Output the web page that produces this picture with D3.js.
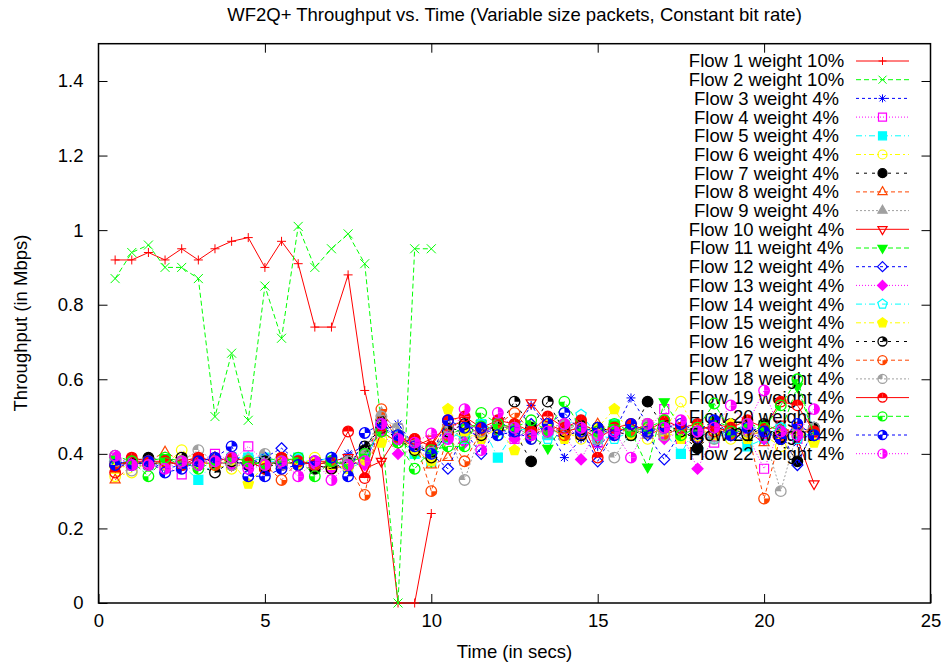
<!DOCTYPE html>
<html>
<head>
<meta charset="utf-8">
<script src="https://cdn.jsdelivr.net/npm/d3@7"></script>
<style>
  body { margin: 0; background: #fff; }
  svg { display: block; }
  text { font-family: "Liberation Sans", Arial, sans-serif; font-size: 18.5px; fill: #000; }
</style>
</head>
<body>
<div id="chart"></div>
<script>
// sample times (secs)
const timesShort = [0.5, 1, 1.5, 2, 2.5, 3, 3.5, 4, 4.5, 5, 5.5, 6, 6.5, 7, 7.5, 8, 8.5, 9, 9.5, 10];
const timesLong = [0.5, 1, 1.5, 2, 2.5, 3, 3.5, 4, 4.5, 5, 5.5, 6, 6.5, 7, 7.5, 8, 8.5, 9, 9.5, 10,
  10.5, 11, 11.5, 12, 12.5, 13, 13.5, 14, 14.5, 15, 15.5, 16, 16.5, 17, 17.5, 18, 18.5, 19, 19.5, 20,
  20.5, 21, 21.5];

// throughput (Mbps)
const flow1 = [0.92, 0.92, 0.94, 0.92, 0.95, 0.92, 0.95, 0.97, 0.98, 0.90, 0.97, 0.91, 0.74, 0.74, 0.88, 0.57, 0.38, 0, 0, 0.24];
const flow2 = [0.87, 0.94, 0.96, 0.90, 0.90, 0.87, 0.50, 0.67, 0.49, 0.85, 0.71, 1.01, 0.90, 0.95, 0.99, 0.91, 0.47, 0, 0.95, 0.95];
const flow3 = [0.38, 0.37, 0.38, 0.36, 0.37, 0.38, 0.39, 0.38, 0.39, 0.37,
  0.38, 0.37, 0.38, 0.37, 0.40, 0.42, 0.46, 0.48, 0.42, 0.40,
  0.45, 0.47, 0.44, 0.49, 0.46, 0.53, 0.47, 0.39, 0.44, 0.42,
  0.46, 0.55, 0.48, 0.45, 0.47, 0.44, 0.49, 0.46, 0.43, 0.47,
  0.45, 0.43, 0.46];
const flow4 = [0.39, 0.37, 0.38, 0.37, 0.345, 0.38, 0.40, 0.38, 0.42, 0.38,
  0.37, 0.38, 0.36, 0.37, 0.38, 0.40, 0.47, 0.44, 0.42, 0.41,
  0.46, 0.48, 0.45, 0.47, 0.44, 0.46, 0.48, 0.45, 0.47, 0.43,
  0.45, 0.47, 0.46, 0.52, 0.44, 0.46, 0.43, 0.48, 0.45, 0.36,
  0.47, 0.44, 0.45];
const flow5 = [0.38, 0.38, 0.37, 0.38, 0.37, 0.33, 0.38, 0.39, 0.39, 0.39,
  0.38, 0.39, 0.37, 0.38, 0.36, 0.38, 0.47, 0.45, 0.40, 0.38,
  0.44, 0.46, 0.48, 0.39, 0.46, 0.47, 0.45, 0.47, 0.46, 0.44,
  0.48, 0.45, 0.47, 0.46, 0.40, 0.48, 0.46, 0.45, 0.42, 0.44,
  0.47, 0.45, 0.44];
const flow6 = [0.34, 0.35, 0.38, 0.37, 0.41, 0.38, 0.37, 0.36, 0.38, 0.37,
  0.38, 0.37, 0.39, 0.36, 0.37, 0.38, 0.44, 0.45, 0.41, 0.39,
  0.47, 0.44, 0.46, 0.45, 0.48, 0.44, 0.47, 0.46, 0.44, 0.47,
  0.45, 0.47, 0.44, 0.46, 0.54, 0.45, 0.47, 0.44, 0.46, 0.45,
  0.42, 0.46, 0.44];
const flow7 = [0.37, 0.38, 0.39, 0.38, 0.37, 0.38, 0.38, 0.37, 0.38, 0.36,
  0.38, 0.37, 0.36, 0.37, 0.38, 0.41, 0.49, 0.45, 0.43, 0.40,
  0.47, 0.46, 0.45, 0.48, 0.46, 0.38, 0.47, 0.45, 0.48, 0.46,
  0.47, 0.45, 0.54, 0.47, 0.45, 0.415, 0.46, 0.48, 0.45, 0.47,
  0.44, 0.38, 0.46];
const flow8 = [0.33, 0.37, 0.38, 0.405, 0.38, 0.37, 0.39, 0.38, 0.37, 0.38,
  0.37, 0.38, 0.37, 0.36, 0.37, 0.38, 0.50, 0.44, 0.42, 0.37,
  0.39, 0.45, 0.47, 0.46, 0.48, 0.45, 0.47, 0.46, 0.45, 0.48,
  0.46, 0.47, 0.45, 0.47, 0.46, 0.44, 0.47, 0.45, 0.46, 0.43,
  0.46, 0.47, 0.45];
const flow9 = [0.38, 0.37, 0.37, 0.38, 0.38, 0.39, 0.37, 0.38, 0.39, 0.38,
  0.37, 0.38, 0.37, 0.38, 0.37, 0.40, 0.51, 0.46, 0.43, 0.41,
  0.46, 0.45, 0.47, 0.48, 0.46, 0.47, 0.45, 0.48, 0.46, 0.45,
  0.47, 0.46, 0.45, 0.48, 0.46, 0.47, 0.44, 0.46, 0.48, 0.46,
  0.45, 0.47, 0.46];
const flow10 = [0.37, 0.38, 0.38, 0.37, 0.38, 0.39, 0.38, 0.37, 0.38, 0.37,
  0.38, 0.37, 0.38, 0.38, 0.39, 0.36, 0.38, 0.45, 0.42, 0.44,
  0.47, 0.49, 0.46, 0.48, 0.47, 0.537, 0.48, 0.46, 0.47, 0.44,
  0.47, 0.46, 0.48, 0.45, 0.47, 0.46, 0.48, 0.47, 0.45, 0.46,
  0.48, 0.44, 0.32];
const flow11 = [0.38, 0.37, 0.38, 0.39, 0.37, 0.38, 0.37, 0.38, 0.37, 0.38,
  0.39, 0.37, 0.38, 0.37, 0.38, 0.39, 0.47, 0.44, 0.40, 0.38,
  0.45, 0.47, 0.48, 0.46, 0.47, 0.45, 0.415, 0.48, 0.47, 0.46,
  0.48, 0.46, 0.365, 0.54, 0.47, 0.46, 0.49, 0.47, 0.45, 0.48,
  0.46, 0.58, 0.45];
const flow12 = [0.38, 0.37, 0.38, 0.37, 0.38, 0.37, 0.39, 0.38, 0.37, 0.39,
  0.415, 0.38, 0.37, 0.38, 0.37, 0.38, 0.47, 0.45, 0.42, 0.40,
  0.36, 0.46, 0.40, 0.47, 0.45, 0.48, 0.46, 0.44, 0.47, 0.38,
  0.46, 0.47, 0.45, 0.385, 0.46, 0.44, 0.47, 0.45, 0.46, 0.44,
  0.46, 0.37, 0.47];
const flow13 = [0.39, 0.38, 0.37, 0.38, 0.37, 0.38, 0.38, 0.37, 0.37, 0.38,
  0.37, 0.38, 0.37, 0.36, 0.38, 0.37, 0.46, 0.40, 0.41, 0.39,
  0.45, 0.43, 0.46, 0.47, 0.44, 0.46, 0.48, 0.45, 0.385, 0.47,
  0.45, 0.46, 0.47, 0.44, 0.46, 0.36, 0.45, 0.47, 0.46, 0.44,
  0.45, 0.47, 0.44];
const flow14 = [0.38, 0.38, 0.37, 0.38, 0.37, 0.37, 0.38, 0.39, 0.39, 0.38,
  0.38, 0.37, 0.38, 0.39, 0.37, 0.38, 0.48, 0.45, 0.42, 0.40,
  0.46, 0.44, 0.48, 0.45, 0.47, 0.46, 0.44, 0.47, 0.505, 0.45,
  0.44, 0.46, 0.48, 0.45, 0.47, 0.46, 0.44, 0.46, 0.48, 0.45,
  0.47, 0.44, 0.46];
const flow15 = [0.36, 0.37, 0.38, 0.37, 0.38, 0.37, 0.38, 0.38, 0.32, 0.37,
  0.38, 0.37, 0.38, 0.37, 0.36, 0.38, 0.43, 0.44, 0.41, 0.38,
  0.52, 0.46, 0.44, 0.47, 0.41, 0.46, 0.48, 0.44, 0.46, 0.47,
  0.52, 0.45, 0.47, 0.46, 0.44, 0.47, 0.45, 0.48, 0.44, 0.47,
  0.45, 0.46, 0.43];
const flow16 = [0.37, 0.38, 0.37, 0.38, 0.39, 0.37, 0.35, 0.38, 0.37, 0.38,
  0.37, 0.38, 0.37, 0.36, 0.38, 0.42, 0.47, 0.44, 0.41, 0.39,
  0.46, 0.48, 0.45, 0.47, 0.54, 0.47, 0.54, 0.46, 0.45, 0.47,
  0.46, 0.45, 0.47, 0.48, 0.46, 0.44, 0.47, 0.46, 0.45, 0.48,
  0.44, 0.46, 0.47];
const flow17 = [0.37, 0.38, 0.37, 0.38, 0.37, 0.38, 0.37, 0.39, 0.38, 0.37,
  0.33, 0.38, 0.37, 0.38, 0.37, 0.29, 0.52, 0.44, 0.44, 0.30,
  0.45, 0.38, 0.46, 0.48, 0.51, 0.46, 0.47, 0.45, 0.48, 0.46,
  0.47, 0.46, 0.48, 0.45, 0.47, 0.46, 0.48, 0.45, 0.46, 0.28,
  0.45, 0.47, 0.46];
const flow18 = [0.38, 0.355, 0.38, 0.37, 0.38, 0.41, 0.38, 0.37, 0.38, 0.40,
  0.37, 0.38, 0.37, 0.38, 0.38, 0.40, 0.50, 0.47, 0.42, 0.40,
  0.47, 0.33, 0.46, 0.48, 0.46, 0.45, 0.47, 0.48, 0.46, 0.44,
  0.39, 0.46, 0.48, 0.45, 0.47, 0.46, 0.44, 0.47, 0.46, 0.45,
  0.30, 0.46, 0.47];
const flow19 = [0.35, 0.39, 0.38, 0.38, 0.37, 0.39, 0.38, 0.39, 0.38, 0.36,
  0.39, 0.38, 0.37, 0.38, 0.46, 0.335, 0.46, 0.43, 0.44, 0.42,
  0.49, 0.50, 0.47, 0.49, 0.48, 0.46, 0.50, 0.47, 0.49, 0.39,
  0.47, 0.48, 0.46, 0.49, 0.47, 0.48, 0.46, 0.47, 0.49, 0.47,
  0.54, 0.53, 0.46];
const flow20 = [0.395, 0.38, 0.34, 0.39, 0.38, 0.36, 0.38, 0.39, 0.38, 0.37,
  0.38, 0.39, 0.34, 0.38, 0.37, 0.40, 0.46, 0.43, 0.36, 0.41,
  0.42, 0.42, 0.51, 0.48, 0.47, 0.49, 0.46, 0.54, 0.47, 0.46,
  0.48, 0.46, 0.47, 0.49, 0.45, 0.47, 0.535, 0.46, 0.48, 0.47,
  0.53, 0.60, 0.45];
const flow21 = [0.37, 0.37, 0.38, 0.35, 0.36, 0.38, 0.39, 0.42, 0.34, 0.34,
  0.36, 0.37, 0.38, 0.39, 0.34, 0.456, 0.48, 0.45, 0.42, 0.40,
  0.49, 0.47, 0.47, 0.45, 0.46, 0.44, 0.48, 0.51, 0.46, 0.47,
  0.45, 0.48, 0.46, 0.47, 0.48, 0.46, 0.49, 0.45, 0.47, 0.46,
  0.44, 0.48, 0.45];
const flow22 = [0.395, 0.37, 0.37, 0.36, 0.38, 0.37, 0.38, 0.39, 0.36, 0.37,
  0.38, 0.34, 0.38, 0.33, 0.37, 0.38, 0.48, 0.44, 0.43, 0.455,
  0.44, 0.52, 0.41, 0.51, 0.47, 0.45, 0.46, 0.48, 0.47, 0.45,
  0.46, 0.39, 0.48, 0.47, 0.49, 0.46, 0.47, 0.53, 0.48, 0.57,
  0.46, 0.45, 0.52];

const flowLabels = [
  "Flow 1 weight 10%", "Flow 2 weight 10%", "Flow 3 weight 4%", "Flow 4 weight 4%",
  "Flow 5 weight 4%", "Flow 6 weight 4%", "Flow 7 weight 4%", "Flow 8 weight 4%",
  "Flow 9 weight 4%", "Flow 10 weight 4%", "Flow 11 weight 4%", "Flow 12 weight 4%",
  "Flow 13 weight 4%", "Flow 14 weight 4%", "Flow 15 weight 4%", "Flow 16 weight 4%",
  "Flow 17 weight 4%", "Flow 18 weight 4%", "Flow 19 weight 4%", "Flow 20 weight 4%",
  "Flow 21 weight 4%", "Flow 22 weight 4%"
];
const xTicks = [0, 5, 10, 15, 20, 25];
const yTicks = [0, 0.2, 0.4, 0.6, 0.8, 1, 1.2, 1.4];

// gnuplot-ish line types, cycling every 9
const ltColors = ["#ff0000", "#00ff00", "#0000ff", "#ff00ff", "#00ffff", "#ffff00", "#000000", "#ff4500", "#a0a0a0"];
const ltDashes = [null, "5,3", "3,3", "1,2", "6,3,1,3", "5,3,2,3", "3,5", "4,3", "2,2"];

const width = 941, height = 665;
const margin = { left: 98.5, right: 930.5, top: 43.7, bottom: 603 };

const svg = d3.select("#chart").append("svg")
  .attr("width", width)
  .attr("height", height);

const x = d3.scaleLinear().domain([0, 25]).range([margin.left, margin.right]);
const y = d3.scaleLinear().domain([0, 1.5]).range([margin.bottom, margin.top]);

// title and axis labels
svg.append("text")
  .attr("x", 514.5).attr("y", 21)
  .attr("text-anchor", "middle")
  .text("WF2Q+ Throughput vs. Time (Variable size packets, Constant bit rate)");

svg.append("text")
  .attr("x", 514.5).attr("y", 658)
  .attr("text-anchor", "middle")
  .text("Time (in secs)");

svg.append("text")
  .attr("transform", "translate(27,323) rotate(-90)")
  .attr("text-anchor", "middle")
  .text("Throughput (in Mbps)");

// axes with inward ticks, mirrored on top/right
function cleanAxis(g) {
  g.attr("font-size", null).attr("font-family", null);
  g.select(".domain").remove();
}

svg.append("g")
  .attr("transform", `translate(0,${margin.bottom})`)
  .call(d3.axisBottom(x).tickValues(xTicks).tickSize(-9).tickPadding(11).tickFormat(d3.format("d")))
  .call(cleanAxis);

svg.append("g")
  .attr("transform", `translate(0,${margin.top})`)
  .call(d3.axisTop(x).tickValues(xTicks.slice(1, -1)).tickSize(-9).tickFormat(""))
  .call(cleanAxis);

svg.append("g")
  .attr("transform", `translate(${margin.left},0)`)
  .call(d3.axisLeft(y).tickValues(yTicks).tickSize(-9).tickPadding(15).tickFormat(d => String(+d.toFixed(1))))
  .call(cleanAxis);

svg.append("g")
  .attr("transform", `translate(${margin.right},0)`)
  .call(d3.axisRight(y).tickValues(yTicks.slice(1)).tickSize(-9).tickFormat(""))
  .call(cleanAxis);

svg.append("rect")
  .attr("x", margin.left).attr("y", margin.top)
  .attr("width", margin.right - margin.left)
  .attr("height", margin.bottom - margin.top)
  .attr("fill", "none")
  .attr("stroke", "#000")
  .attr("stroke-width", 1.5);

// point markers, gnuplot order: + x * box fbox circ fcirc tri ftri itri fitri dia fdia pent fpent, then part-filled circles
const quads = { UR: [0, Math.PI / 2], LR: [Math.PI / 2, Math.PI], LL: [Math.PI, 1.5 * Math.PI], UL: [1.5 * Math.PI, 2 * Math.PI] };
const circleFills = [["UR"], ["LR"], ["UL"], ["UL", "UR"], ["LL"], ["UR", "LL"], ["UR", "LR"]];

function polygon(n, r, rot) {
  const pts = d3.range(n).map(k => {
    const a = rot + k * 2 * Math.PI / n;
    return [r * Math.sin(a), -r * Math.cos(a)];
  });
  return "M" + pts.map(p => p.join(",")).join("L") + "Z";
}

function drawMarker(g, type, color, big) {
  const s = big ? 4.5 : 4;
  const r = big ? 5.3 : 4.5;
  const line = (d) => g.append("path").attr("d", d).attr("fill", "none").attr("stroke", color).attr("stroke-width", 1);
  const shape = (d, filled) => g.append("path").attr("d", d)
    .attr("fill", filled ? color : "none").attr("stroke", color).attr("stroke-width", 1.2);
  const disc = d3.arc()({ innerRadius: 0, outerRadius: r, startAngle: 0, endAngle: 2 * Math.PI });
  switch (type) {
    case 1: line(`M${-s},0H${s}M0,${-s}V${s}`); break;
    case 2: line(`M${-s},${-s}L${s},${s}M${-s},${s}L${s},${-s}`); break;
    case 3: line(`M${-s},0H${s}M0,${-s}V${s}M${-s + 1},${-s + 1}L${s - 1},${s - 1}M${-s + 1},${s - 1}L${s - 1},${-s + 1}`); break;
    case 4: shape(`M${-s},${-s}H${s}V${s}H${-s}Z`, false); break;
    case 5: shape(`M${-s},${-s}H${s}V${s}H${-s}Z`, true); break;
    case 6: shape(disc, false); break;
    case 7: shape(disc, true); break;
    case 8: shape(polygon(3, s + 1.3, 0), false); break;
    case 9: shape(polygon(3, s + 1.3, 0), true); break;
    case 10: shape(polygon(3, s + 1.3, Math.PI), false); break;
    case 11: shape(polygon(3, s + 1.3, Math.PI), true); break;
    case 12: shape(polygon(4, s + 1, 0), false); break;
    case 13: shape(polygon(4, s + 1, 0), true); break;
    case 14: shape(polygon(5, s + 1, 0), false); break;
    case 15: shape(polygon(5, s + 1, 0), true); break;
    default: {
      const fills = circleFills[(type - 16) % circleFills.length];
      fills.forEach(q => {
        g.append("path")
          .attr("d", d3.arc()({ innerRadius: 0, outerRadius: r, startAngle: quads[q][0], endAngle: quads[q][1] }))
          .attr("fill", color);
      });
      g.append("circle").attr("r", r).attr("fill", "none").attr("stroke", color).attr("stroke-width", 1.3);
    }
  }
}

const flows = [flow1, flow2, flow3, flow4, flow5, flow6, flow7, flow8, flow9, flow10, flow11,
  flow12, flow13, flow14, flow15, flow16, flow17, flow18, flow19, flow20, flow21, flow22];

const series = flows.map((vals, i) => ({
  label: flowLabels[i],
  color: ltColors[i % 9],
  dash: ltDashes[i % 9],
  marker: i + 1,
  points: vals.map((v, k) => ({ t: (i < 2 ? timesShort : timesLong)[k], v }))
}));

const lineGen = d3.line().x(d => x(d.t)).y(d => y(d.v));
const keyX0 = 856, keyX1 = 909, keyTextX = 766.5, keyY0 = 61, keyStep = 18.7;

// like gnuplot: key entry, then that plot, one after another
series.forEach((s, i) => {
  const ky = keyY0 + keyStep * i;
  const key = svg.append("g").attr("class", "key");
  key.append("text")
    .attr("x", keyTextX).attr("y", ky).attr("dy", "0.35em")
    .attr("text-anchor", "middle")
    .text(s.label);
  key.append("line")
    .attr("x1", keyX0).attr("x2", keyX1).attr("y1", ky).attr("y2", ky)
    .attr("stroke", s.color).attr("stroke-dasharray", s.dash);
  drawMarker(key.append("g").attr("transform", `translate(${(keyX0 + keyX1) / 2},${ky})`), s.marker, s.color, false);

  const g = svg.append("g").attr("class", "flow");
  g.append("path")
    .datum(s.points)
    .attr("d", lineGen)
    .attr("fill", "none")
    .attr("stroke", s.color)
    .attr("stroke-width", 1)
    .attr("stroke-dasharray", s.dash);
  g.selectAll("g.pt")
    .data(s.points)
    .join("g")
    .attr("class", "pt")
    .attr("transform", d => `translate(${x(d.t)},${y(d.v)})`)
    .each(function () { drawMarker(d3.select(this), s.marker, s.color, true); });
});
</script>
</body>
</html>
